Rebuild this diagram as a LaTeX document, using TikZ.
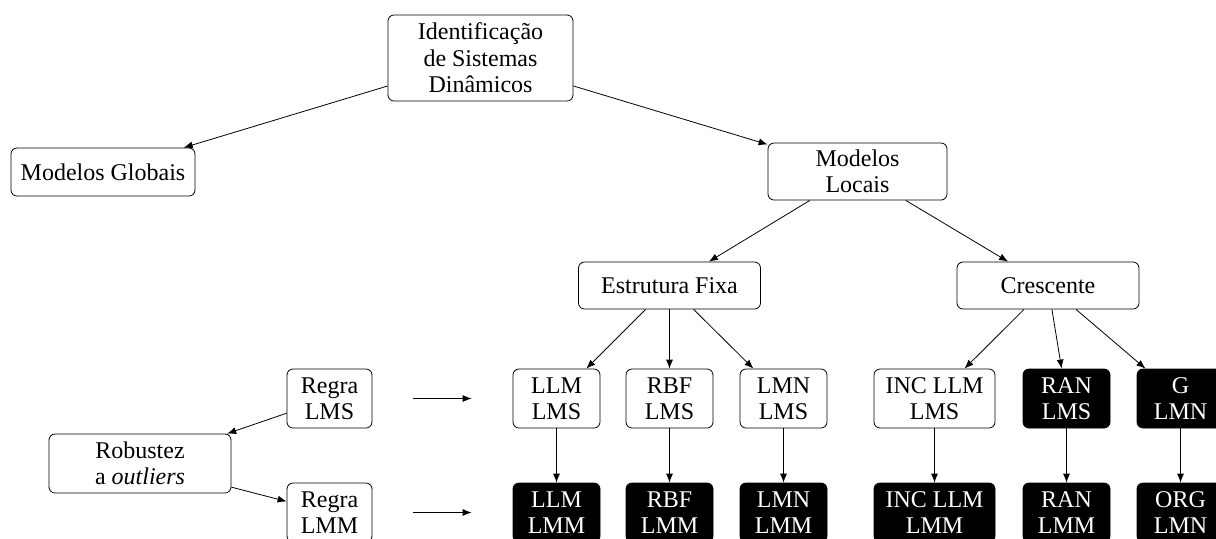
\documentclass[tikz,border=0pt]{standalone}
\usepackage{fontspec}
\setmainfont{Liberation Serif}
\usetikzlibrary{arrows.meta}
\begin{document}
\begin{tikzpicture}[x=0.5pt,y=-0.5pt,
  box/.style={draw, rounded corners=3pt, align=center, inner sep=2pt,
    font=\fontsize{12pt}{13.25pt}\selectfont},
  wide/.style={box, minimum width=91pt, minimum height=23.5pt},
  small/.style={box, minimum width=43.5pt, minimum height=29.5pt},
  dark/.style={small, fill=black, text=white},
  arr/.style={-{Latex[length=4.5pt,width=3.5pt]}},
  side/.style={arr, shorten <=20.5pt, shorten >=20.5pt},
]
\useasboundingbox (0,0) rectangle (1216,538);
\clip (0,0) rectangle (1216,538);

% upper levels
\node[wide, minimum width=92.5pt, minimum height=43pt] (root) at (480.5,58) {Identificação\\de Sistemas\\Dinâmicos};
\node[wide, minimum width=92pt, minimum height=24pt] (glob) at (103,172) {Modelos Globais};
\node[wide, minimum width=89.5pt, minimum height=28.5pt] (loc) at (857.5,171.5) {Modelos\\Locais};
\node[wide] (fixa) at (669.5,285.5) {Estrutura Fixa};
\node[wide] (cresc) at (1048,285.5) {Crescente};

% learning rules
\node[small, minimum width=42.5pt] (rlms) at (329.5,398.5) {Regra\\LMS};
\node[small, minimum width=42.5pt] (rlmm) at (329.5,512.5) {Regra\\LMM};
\node[wide, minimum height=29.5pt] (rob) at (140,463.5) {Robustez\\a \textit{outliers}};

% models trained with LMS
\node[small] (llms) at (556.5,398.5) {LLM\\LMS};
\node[small] (rbfs) at (669.5,398.5) {RBF\\LMS};
\node[small] (lmns) at (783.5,398.5) {LMN\\LMS};
\node[small, minimum width=60.5pt] (incs) at (934.5,398.5) {INC LLM\\LMS};
\node[dark] (rans) at (1066.5,398.5) {RAN\\LMS};
\node[dark] (glmn) at (1180.5,398.5) {G\\LMN};

% models trained with LMM
\node[dark] (llmm) at (556.5,512.5) {LLM\\LMM};
\node[dark] (rbfm) at (669.5,512.5) {RBF\\LMM};
\node[dark] (lmnm) at (783.5,512.5) {LMN\\LMM};
\node[dark, minimum width=60.5pt] (incm) at (934.5,512.5) {INC LLM\\LMM};
\node[dark] (ranm) at (1066.5,512.5) {RAN\\LMM};
\node[dark] (orgm) at (1180.5,512.5) {ORG\\LMN};

% connectors
\draw[arr] (root) -- (glob);
\draw[arr] (root) -- (loc);
\draw[arr] (loc) -- (fixa);
\draw[arr] (loc) -- (cresc);
\draw[arr] (fixa) -- (llms);
\draw[arr] (fixa) -- (rbfs);
\draw[arr] (fixa) -- (lmns);
\draw[arr] (cresc) -- (incs);
\draw[arr] (cresc) -- (rans);
\draw[arr] (cresc) -- (glmn);
\draw[arr] (llms) -- (llmm);
\draw[arr] (rbfs) -- (rbfm);
\draw[arr] (lmns) -- (lmnm);
\draw[arr] (incs) -- (incm);
\draw[arr] (rans) -- (ranm);
\draw[arr] (glmn) -- (orgm);
\draw[arr] (rlms) -- (rob);
\draw[arr] (rob) -- (rlmm);
\draw[side] (rlms) -- (llms);
\draw[side] (rlmm) -- (llmm);
\end{tikzpicture}
\end{document}
